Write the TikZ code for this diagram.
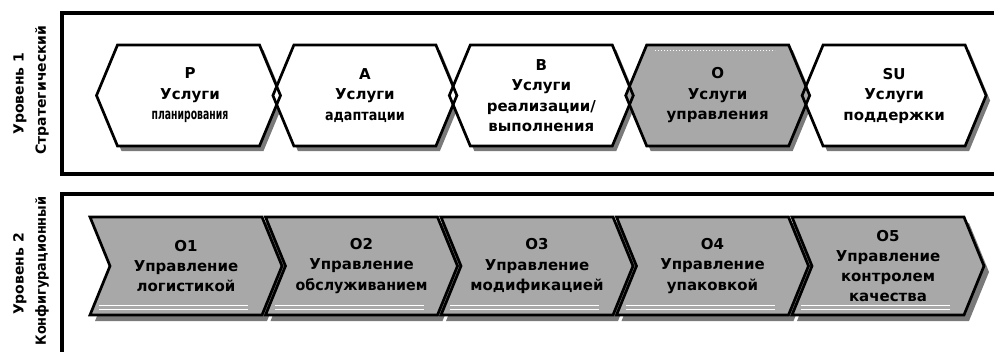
\documentclass[tikz,border=0pt]{standalone}
\usepackage{fontspec}
\setmainfont{DejaVu Sans}
\usetikzlibrary{calc}

% hexagon centred at x = #1 (upper row)
\newcommand\hexat[1]{(#1-92,95.5) -- (#1-71,45) -- (#1+71,45) -- (#1+92,95.5) -- (#1+71,146) -- (#1-71,146) -- cycle}
% chevron with left edge at x = #1 (lower row)
\newcommand\chevat[1]{(#1,217) -- (#1+172,217) -- (#1+192,266) -- (#1+172,315) -- (#1,315) -- (#1+20,266) -- cycle}

\tikzset{
  frameline/.style={line width=3.6pt, line cap=rect},
  levelname/.style={font=\bfseries\fontsize{14}{16}\selectfont, rotate=90, inner sep=0pt},
  shadowc/.style={fill=black!52},
  outline/.style={draw=black, line width=2.7pt, line join=miter},
  greybody/.style={fill=black!34},
  toptext/.style={font=\bfseries\fontsize{15}{20.5}\selectfont, align=center, inner sep=0pt},
  bottext/.style={font=\bfseries\fontsize{15}{20.3}\selectfont, align=center, inner sep=0pt},
  glint/.style={draw=white, line width=1.1pt},
}

\begin{document}
\begin{tikzpicture}[x=1pt,y=-1pt]
\useasboundingbox (0,0) rectangle (994,351);

% level frames, open towards the right
\draw[frameline] (1000,13) -- (62,13) -- (62,174) -- (1000,174);
\draw[frameline] (1000,194) -- (62,194) -- (62,360);

% level captions
\node[levelname] (lvlonea) at (20,93.5) {Уровень 1};
\node[levelname] (lvloneb) at (42,90) {Стратегический};
\node[levelname] (lvltwoa) at (20,274) {Уровень 2};
\node[levelname] (lvltwob) at (42,271) {\scalebox{0.92}[1]{Конфигурационный}};

% ---- strategic level: service hexagons ----
\foreach \c in {188.5,364.9,541.3,717.7,894.1}
  \fill[shadowc, shift={(4,5)}] \hexat{\c};
\foreach \c in {188.5,364.9,541.3,894.1}
  \fill[white] \hexat{\c};
\fill[greybody] \hexat{717.7};
\draw[white, line width=1pt, dotted] (655,50) -- (775,50);
\foreach \c in {188.5,364.9,541.3,717.7,894.1}
  \draw[outline] \hexat{\c};

\node[toptext] (svcp) at (190,95.5) {P\\Услуги\\\scalebox{0.62}[1]{планирования}};
\node[toptext] (svca) at (364.9,95.5) {A\\Услуги\\\scalebox{0.85}[1]{адаптации}};
\node[toptext] (svcb) at (541.3,95.5) {B\\Услуги\\реализации/\\выполнения};
\node[toptext] (svco) at (717.7,95.5) {O\\Услуги\\управления};
\node[toptext] (svcsu) at (894.1,95.5) {SU\\Услуги\\поддержки};

% ---- configuration level: management chevrons ----
\foreach \l in {90,265.5,441,616.5,792}
  \fill[shadowc, shift={(5,6)}] \chevat{\l};
\foreach \l in {90,265.5,441,616.5,792}{
  \fill[greybody] \chevat{\l};
  \draw[glint] (\l+9,305.5) -- (\l+158,305.5);
  \draw[glint] (\l+9,309.5) -- (\l+158,309.5);
  \draw[outline] \chevat{\l};
}

\node[bottext] (mgo1) at (186,266) {O1\\Управление\\логистикой};
\node[bottext] (mgo2) at (361.5,266) {O2\\Управление\\\scalebox{0.95}[1]{обслуживанием}};
\node[bottext] (mgo3) at (537,266) {O3\\Управление\\модификацией};
\node[bottext] (mgo4) at (712.5,266) {O4\\Управление\\упаковкой};
\node[bottext] (mgo5) at (888,266) {O5\\Управление\\контролем\\качества};

\end{tikzpicture}
\end{document}
